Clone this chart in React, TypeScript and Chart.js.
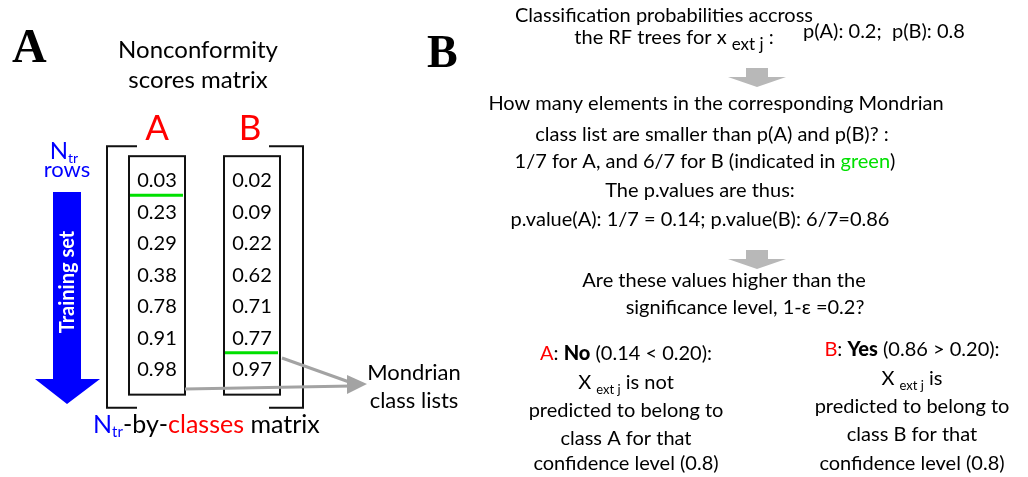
import React, { useEffect, useRef } from "react";
import { Chart, registerables } from "chart.js";

Chart.register(...registerables);

const W = 1028;
const H = 477;

// ---- data ----
const classLabels = ["A", "B"];
const scoresA = [0.03, 0.23, 0.29, 0.38, 0.78, 0.91, 0.98];
const scoresB = [0.02, 0.09, 0.22, 0.62, 0.71, 0.77, 0.97];
const classProbs = [0.2, 0.8]; // p(A), p(B) across the RF trees

const FONT = "Lato, 'Open Sans', 'DejaVu Sans', sans-serif";
const SERIF = "'Liberation Serif', 'DejaVu Serif', serif";
const RED = "#ff0000";
const BLUE = "#0000ff";
const GREEN = "#00e000";

type Seg = { t: string; c?: string; s?: number; w?: string; dy?: number; f?: string };

function rich(
  ctx: CanvasRenderingContext2D,
  segs: Seg[],
  x: number,
  y: number,
  align: "left" | "center" = "center",
  base = 20
) {
  ctx.textAlign = "left";
  ctx.textBaseline = "alphabetic";
  const fontOf = (s: Seg) => `${s.w || "normal"} ${s.s || base}px ${s.f || FONT}`;
  const widths = segs.map((s) => {
    ctx.font = fontOf(s);
    return ctx.measureText(s.t).width;
  });
  const total = widths.reduce((a, b) => a + b, 0);
  let cx = align === "center" ? x - total / 2 : x;
  segs.forEach((s, i) => {
    ctx.font = fontOf(s);
    ctx.fillStyle = s.c || "#000";
    ctx.fillText(s.t, cx, y + (s.dy || 0));
    cx += widths[i];
  });
}

function poly(ctx: CanvasRenderingContext2D, pts: number[][], color: string) {
  ctx.beginPath();
  ctx.moveTo(pts[0][0], pts[0][1]);
  for (let i = 1; i < pts.length; i++) ctx.lineTo(pts[i][0], pts[i][1]);
  ctx.closePath();
  ctx.fillStyle = color;
  ctx.fill();
}

function downArrow(ctx: CanvasRenderingContext2D, cx: number, top: number, color: string) {
  poly(
    ctx,
    [
      [cx - 11, top],
      [cx + 11, top],
      [cx + 11, top + 9],
      [cx + 29, top + 9],
      [cx, top + 19],
      [cx - 29, top + 9],
      [cx - 11, top + 9],
    ],
    color
  );
}

const diagramPlugin = {
  id: "diagram",
  beforeDraw(chart: any) {
    const ctx = chart.ctx as CanvasRenderingContext2D;
    ctx.save();
    ctx.fillStyle = "#fff";
    ctx.fillRect(0, 0, chart.width, chart.height);
    ctx.restore();
  },
  afterDatasetsDraw(chart: any) {
    const ctx = chart.ctx as CanvasRenderingContext2D;
    const xs = chart.scales.xCol;
    const ys = chart.scales.yRow;
    const cols = [scoresA, scoresB];
    ctx.save();

    // ---------- Panel A ----------
    ctx.font = `bold 48px ${SERIF}`;
    ctx.fillStyle = "#000";
    ctx.textAlign = "left";
    ctx.textBaseline = "alphabetic";
    ctx.fillText("A", 12, 62);

    rich(ctx, [{ t: "Nonconformity" }], 198, 58, "center", 24);
    rich(ctx, [{ t: "scores matrix" }], 198, 88, "center", 24);

    const boxTop = ys.getPixelForValue(-0.74);
    const boxBottom = ys.getPixelForValue(6.83);
    const half = 28;
    const centers = classLabels.map((_, ci) => xs.getPixelForValue(ci));

    // class labels
    classLabels.forEach((lab, ci) => {
      rich(ctx, [{ t: lab, c: RED }], centers[ci] + (ci === 0 ? 0 : -2), 140, "center", 35);
    });

    // column boxes
    ctx.strokeStyle = "#111";
    ctx.lineWidth = 2;
    centers.forEach((cx) => {
      ctx.strokeRect(cx - half, boxTop, half * 2, boxBottom - boxTop);
    });

    // matrix brackets
    const bl = centers[0] - half - 22;
    const br = centers[1] + half + 23;
    const bt = boxTop - 10;
    const bb = boxBottom + 13;
    ctx.beginPath();
    ctx.moveTo(bl + 30, bt);
    ctx.lineTo(bl, bt);
    ctx.lineTo(bl, bb);
    ctx.lineTo(bl + 30, bb);
    ctx.moveTo(br - 34, bt);
    ctx.lineTo(br, bt);
    ctx.lineTo(br, bb);
    ctx.lineTo(br - 34, bb);
    ctx.stroke();

    // score values (cells)
    chart.data.datasets.forEach((ds: any, di: number) => {
      const meta = chart.getDatasetMeta(di);
      meta.data.forEach((el: any, i: number) => {
        const v = ds.data[i].v as number;
        rich(ctx, [{ t: v.toFixed(2) }], el.x, el.y + 7.5, "center", 20);
      });
    });

    // green separators: number of list elements smaller than the class probability
    ctx.strokeStyle = GREEN;
    ctx.lineWidth = 3;
    cols.forEach((list, ci) => {
      const n = list.filter((s) => s < classProbs[ci]).length;
      const y = ys.getPixelForValue(n - 0.5);
      ctx.beginPath();
      ctx.moveTo(centers[ci] - half + 1, y);
      ctx.lineTo(centers[ci] + half - 2, y);
      ctx.stroke();
    });

    // N_tr rows
    rich(ctx, [{ t: "N", c: BLUE, s: 24 }, { t: "tr", c: BLUE, s: 14, dy: 4 }], 64, 159, "center");
    rich(ctx, [{ t: "rows", c: BLUE }], 67, 177, "center", 22);

    // blue training-set arrow
    poly(
      ctx,
      [
        [53, 192],
        [81, 192],
        [81, 379],
        [100, 379],
        [67, 404],
        [35, 379],
        [53, 379],
      ],
      BLUE
    );
    ctx.save();
    ctx.translate(67, 282);
    ctx.rotate(-Math.PI / 2);
    ctx.font = `bold 20px ${FONT}`;
    ctx.fillStyle = "#fff";
    ctx.textAlign = "center";
    ctx.textBaseline = "middle";
    ctx.fillText("Training set", 0, 1);
    ctx.restore();

    // N_tr-by-classes matrix
    rich(
      ctx,
      [
        { t: "N", c: BLUE, s: 25 },
        { t: "tr", c: BLUE, s: 15, dy: 4 },
        { t: "-by-", s: 25 },
        { t: "classes", c: RED, s: 25 },
        { t: " matrix", s: 25 },
      ],
      93,
      433,
      "left"
    );

    // grey arrows to Mondrian class lists
    ctx.strokeStyle = "#a3a3a3";
    ctx.lineWidth = 3;
    ctx.beginPath();
    ctx.moveTo(centers[0] + half, 389);
    ctx.lineTo(352, 386);
    ctx.moveTo(centers[1] + half + 2, 358);
    ctx.lineTo(352, 383);
    ctx.stroke();
    poly(
      ctx,
      [
        [347, 375],
        [367, 384],
        [347, 394],
      ],
      "#a3a3a3"
    );
    rich(ctx, [{ t: "Mondrian" }], 414, 380, "center", 22);
    rich(ctx, [{ t: "class lists" }], 414, 408, "center", 22);

    // ---------- Panel B ----------
    ctx.font = `bold 46px ${SERIF}`;
    ctx.fillStyle = "#000";
    ctx.textAlign = "left";
    ctx.fillText("B", 427, 67);

    const F = 20;
    rich(ctx, [{ t: "Classification probabilities accross" }], 664, 22, "center", F);
    rich(
      ctx,
      [{ t: "the RF trees for x " }, { t: "ext j", s: 17, dy: 6 }, { t: " :" }],
      674,
      44,
      "center",
      F
    );
    rich(ctx, [{ t: "p(A): 0.2;  p(B): 0.8" }], 803, 38, "left", F);

    downArrow(ctx, 757, 68, "#b8b8b8");

    rich(ctx, [{ t: "How many elements in the corresponding Mondrian" }], 716, 110, "center", F);
    rich(ctx, [{ t: "class list are smaller than p(A) and p(B)? :" }], 712, 141, "center", F);
    rich(
      ctx,
      [{ t: "1/7 for A, and 6/7 for B (indicated in " }, { t: "green", c: GREEN }, { t: ")" }],
      705,
      168,
      "center",
      F
    );
    rich(ctx, [{ t: "The p.values are thus:" }], 700, 197, "center", F);
    rich(ctx, [{ t: "p.value(A): 1/7 = 0.14; p.value(B): 6/7=0.86" }], 700, 226, "center", F);

    downArrow(ctx, 757, 250, "#b8b8b8");

    rich(ctx, [{ t: "Are these values higher than the" }], 724, 287, "center", F);
    rich(ctx, [{ t: "significance level, 1-ε =0.2?" }], 745, 314, "center", F);

    // left decision block (class A)
    const lx = 626;
    rich(
      ctx,
      [{ t: "A", c: RED }, { t: ": " }, { t: "No", w: "900" }, { t: " (0.14 < 0.20):" }],
      lx,
      360,
      "center",
      F
    );
    rich(ctx, [{ t: "X " }, { t: "ext j", s: 13, dy: 5 }, { t: " is not" }], lx, 389, "center", F);
    rich(ctx, [{ t: "predicted to belong to" }], lx, 417, "center", F);
    rich(ctx, [{ t: "class A for that" }], lx, 445, "center", F);
    rich(ctx, [{ t: "confidence level (0.8)" }], lx, 470, "center", F);

    // right decision block (class B)
    const rx = 912;
    rich(
      ctx,
      [{ t: "B", c: RED }, { t: ": " }, { t: "Yes", w: "900" }, { t: " (0.86 > 0.20):" }],
      rx,
      356,
      "center",
      F
    );
    rich(ctx, [{ t: "X " }, { t: "ext j", s: 13, dy: 5 }, { t: " is" }], rx, 385, "center", F);
    rich(ctx, [{ t: "predicted to belong to" }], rx, 413, "center", F);
    rich(ctx, [{ t: "class B for that" }], rx, 441, "center", F);
    rich(ctx, [{ t: "confidence level (0.8)" }], rx, 470, "center", F);

    ctx.restore();
  },
};

export default function App() {
  const ref = useRef<HTMLCanvasElement | null>(null);
  useEffect(() => {
    document.body.style.margin = "0";
    const canvas = ref.current;
    if (!canvas) return;
    const cols = [scoresA, scoresB];
    const chart = new Chart(canvas, {
      type: "scatter",
      data: {
        datasets: classLabels.map((lab, ci) => ({
          label: lab,
          data: cols[ci].map((v, ri) => ({ x: ci, y: ri, v })),
          xAxisID: "xCol",
          yAxisID: "yRow",
          pointRadius: 0,
          pointHoverRadius: 0,
        })),
      } as any,
      options: {
        animation: false,
        responsive: false,
        maintainAspectRatio: false,
        layout: { padding: 0 },
        events: [],
        plugins: { legend: { display: false }, tooltip: { enabled: false } },
        scales: {
          xCol: { type: "linear", display: false, min: -157 / 95, max: (W - 157) / 95 },
          yRow: {
            type: "linear",
            display: false,
            reverse: true,
            min: -179.5 / 31.5,
            max: (H - 179.5) / 31.5,
          },
        },
      } as any,
      plugins: [diagramPlugin],
    });
    return () => chart.destroy();
  }, []);
  return (
    <div style={{ width: W, height: H }}>
      <canvas ref={ref} width={W} height={H} style={{ display: "block" }} />
    </div>
  );
}
